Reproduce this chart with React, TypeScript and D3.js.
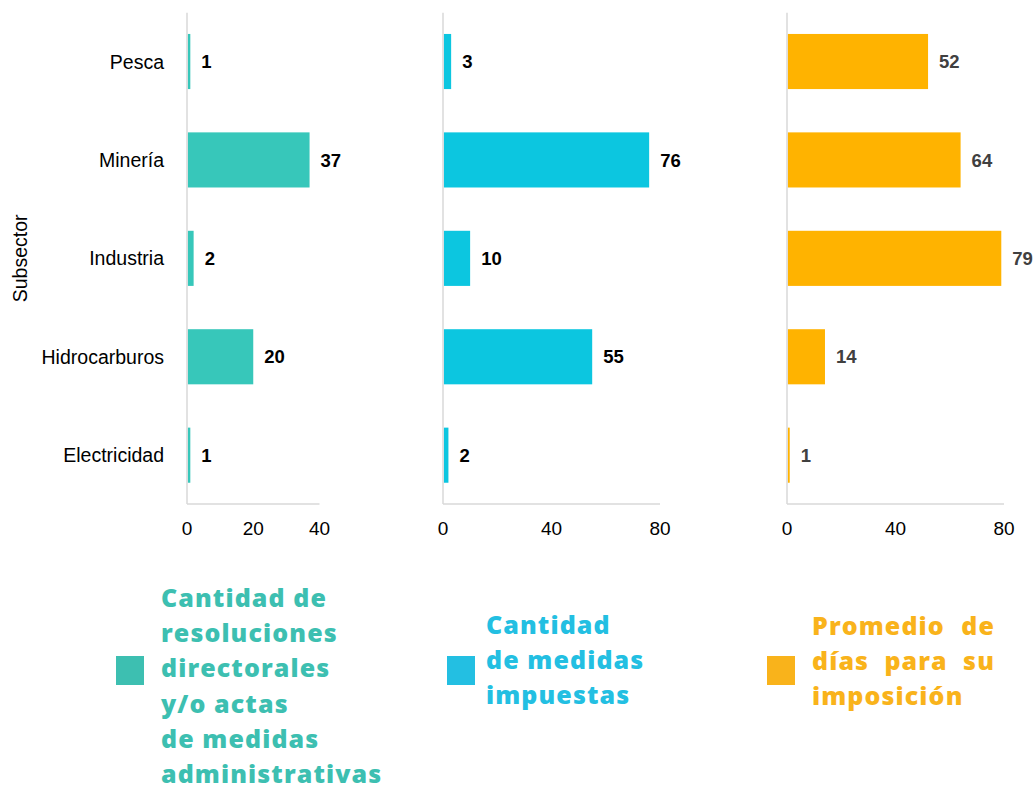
import React, { useEffect, useRef } from 'react';
import * as d3 from 'd3';

const categories = ['Pesca', 'Minería', 'Industria', 'Hidrocarburos', 'Electricidad'];
const resoluciones = [1, 37, 2, 20, 1];
const medidasImpuestas = [3, 76, 10, 55, 2];
const promedioDias = [52, 64, 79, 14, 1];
const ticksResoluciones = [0, 20, 40];
const ticksMedidas = [0, 40, 80];
const ticksDias = [0, 40, 80];
const yAxisTitle = 'Subsector';
const legendResoluciones = ['Cantidad de', 'resoluciones', 'directorales', 'y/o actas', 'de medidas', 'administrativas'];
const legendMedidas = ['Cantidad', 'de medidas', 'impuestas'];
const legendDias = ['Promedio de', 'días para su', 'imposición'];

const W = 1033;
const H = 787;

export default function App() {
  const ref = useRef<SVGSVGElement | null>(null);

  useEffect(() => {
    const svg = d3.select(ref.current);
    svg.selectAll('*').remove();

    const top = 12.7;
    const bottom = 504;
    const y = d3.scaleBand<string>().domain(categories).range([top, bottom]).paddingInner(0.44).paddingOuter(0.216);

    const panels = [
      { values: resoluciones, max: 40, range: [187, 319.5], ticks: ticksResoluciones, color: '#37C7BA', labelColor: '#000000' },
      { values: medidasImpuestas, max: 80, range: [443, 660], ticks: ticksMedidas, color: '#0CC6E0', labelColor: '#000000' },
      { values: promedioDias, max: 80, range: [787, 1004], ticks: ticksDias, color: '#FFB300', labelColor: '#404040' },
    ];

    const font = '"Liberation Sans", Arial, sans-serif';

    panels.forEach((p) => {
      const x = d3.scaleLinear().domain([0, p.max]).range(p.range as [number, number]);
      const g = svg.append('g');
      g.selectAll('rect.bar')
        .data(p.values)
        .enter()
        .append('rect')
        .attr('x', x(0) + 0.8)
        .attr('y', (_d, i) => y(categories[i])!)
        .attr('width', (d) => Math.max(0, x(d) - x(0) - 0.8))
        .attr('height', y.bandwidth())
        .attr('fill', p.color);
      g.append('line')
        .attr('x1', x(0)).attr('x2', x(0))
        .attr('y1', top).attr('y2', bottom)
        .attr('stroke', '#D9D9D9').attr('stroke-width', 1.5);
      g.append('line')
        .attr('x1', x(0)).attr('x2', x(p.max))
        .attr('y1', bottom).attr('y2', bottom)
        .attr('stroke', '#D9D9D9').attr('stroke-width', 1.5);
      g.selectAll('text.tick')
        .data(p.ticks)
        .enter()
        .append('text')
        .attr('x', (d) => x(d))
        .attr('y', 535)
        .attr('text-anchor', 'middle')
        .attr('font-family', font)
        .attr('font-size', 19)
        .attr('fill', '#000')
        .text((d) => String(d));
      g.selectAll('text.val')
        .data(p.values)
        .enter()
        .append('text')
        .attr('x', (d) => x(d) + 11)
        .attr('y', (_d, i) => y(categories[i])! + y.bandwidth() / 2)
        .attr('dy', '0.36em')
        .attr('font-family', font)
        .attr('font-size', 18.5)
        .attr('font-weight', 'bold')
        .attr('fill', p.labelColor)
        .text((d) => String(d));
    });

    svg.selectAll('text.cat')
      .data(categories)
      .enter()
      .append('text')
      .attr('x', 164)
      .attr('y', (d) => y(d)! + y.bandwidth() / 2)
      .attr('dy', '0.36em')
      .attr('text-anchor', 'end')
      .attr('font-family', font)
      .attr('font-size', 19.5)
      .attr('fill', '#000')
      .text((d) => d);

    svg.append('text')
      .attr('transform', `translate(27, ${(top + bottom) / 2}) rotate(-90)`)
      .attr('text-anchor', 'middle')
      .attr('font-family', font)
      .attr('font-size', 19.5)
      .attr('fill', '#000')
      .text(yAxisTitle);

    const lfont = '"Open Sans", sans-serif';
    const fs = 25;
    const ls = 1.1;
    const fw = 800;
    const legends = [
      { lines: legendResoluciones, color: '#3DBFB1', sq: [116, 656], tx: 161, base: 607, justify: false, right: 0 },
      { lines: legendMedidas, color: '#23BFE2', sq: [447, 656], tx: 486, base: 634, justify: false, right: 0 },
      { lines: legendDias, color: '#F9B31B', sq: [767, 656], tx: 812, base: 635, justify: true, right: 995 },
    ];
    const lh = 35.2;
    legends.forEach((L) => {
      const g = svg.append('g');
      g.append('rect').attr('x', L.sq[0]).attr('y', L.sq[1]).attr('width', 28).attr('height', 29).attr('fill', L.color);
      L.lines.forEach((line, li) => {
        const by = L.base + li * lh;
        const words = line.split(' ');
        const addText = (t: string) =>
          g.append('text')
            .attr('y', by)
            .attr('font-family', lfont)
            .attr('font-size', fs)
            .attr('font-weight', fw)
            .attr('letter-spacing', ls)
            .attr('fill', L.color)
            .text(t);
        if (L.justify && words.length > 1 && li < L.lines.length - 1) {
          const nodes = words.map((w) => addText(w));
          const widths = nodes.map((n) => (n.node() as SVGTextElement).getComputedTextLength());
          const total = d3.sum(widths);
          const gap = (L.right - L.tx - total) / (words.length - 1);
          let cx = L.tx;
          nodes.forEach((n, k) => {
            n.attr('x', cx);
            cx += widths[k] + gap;
          });
        } else {
          addText(line).attr('x', L.tx);
        }
      });
    });
  }, []);

  return (
    <svg
      ref={ref}
      width={W}
      height={H}
      style={{ position: 'absolute', left: 0, top: 0, background: '#fff' }}
    />
  );
}
